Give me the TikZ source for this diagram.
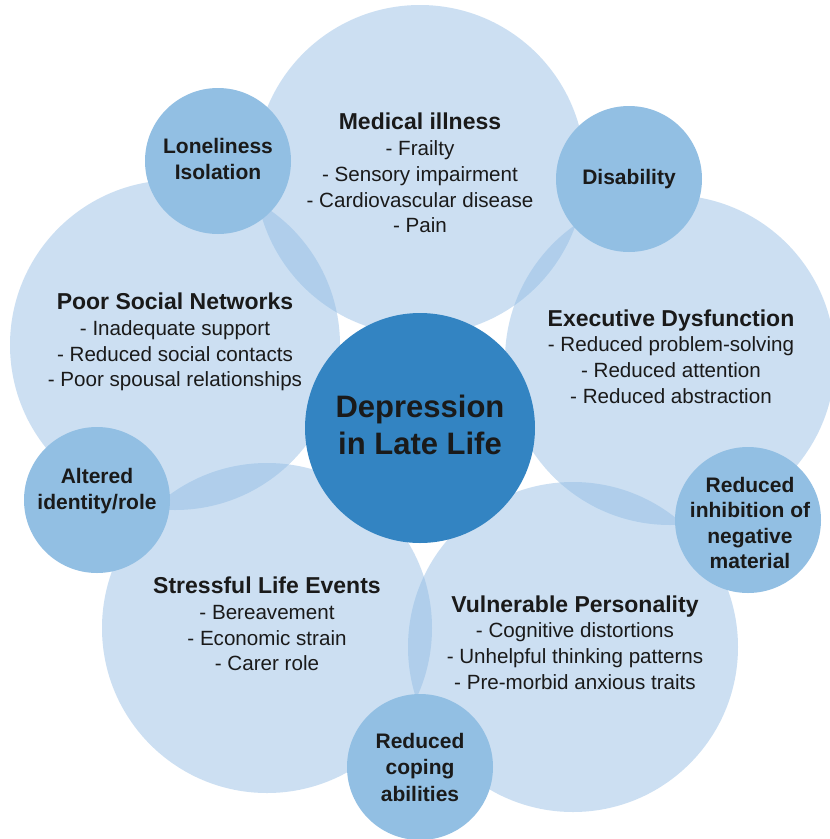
\documentclass[tikz,border=0pt]{standalone}
\usepackage{fontspec}
\setmainfont{Liberation Sans}
\usetikzlibrary{positioning}
\definecolor{paleblue}{RGB}{142,186,228}
\definecolor{midblue}{HTML}{92BFE3}
\definecolor{deepblue}{HTML}{3384C2}
\definecolor{inkgrey}{HTML}{1A1A1A}
\newcommand{\ttl}[1]{{\fontsize{23}{27}\selectfont\bfseries #1}}

\begin{document}
\begin{tikzpicture}[
  x=1pt, y=-1pt,
  factor/.style={
    circle,
    fill=paleblue,
    fill opacity=0.45,
    inner sep=0pt,
    minimum size=330pt,
  },
  link/.style={
    circle,
    fill=midblue,
    inner sep=0pt,
    minimum size=146pt,
  },
  core/.style={
    circle,
    fill=deepblue,
    inner sep=0pt,
    minimum size=230pt,
  },
  factortext/.style={
    align=center,
    text=inkgrey,
    font=\fontsize{20.6}{25.8}\selectfont,
  },
  linktext/.style={
    align=center,
    text=inkgrey,
    font=\fontsize{21}{26.5}\selectfont\bfseries,
  },
  coretext/.style={
    align=center,
    text=inkgrey,
    font=\fontsize{31}{36.5}\selectfont\bfseries,
  }]
  \fill[white] (0,0) rectangle (830,839);
  \useasboundingbox (0,0) rectangle (830,839);
  % outer factors
  \node[factor] (MED) at (420,170) {};
  \node[factor] (EXE) at (670,360) {};
  \node[factor] (VUL) at (573,647) {};
  \node[factor] (STR) at (267,628) {};
  \node[factor] (SOC) at (175,345) {};
  % centre
  \node[core] (DEP) at (420,428) {};
  % linking circles
  \node[link] (LON) at (218,161) {};
  \node[link] (DIS) at (629,179) {};
  \node[link] (INH) at (748,520) {};
  \node[link] (COP) at (420,767) {};
  \node[link] (IDE) at (97,500) {};
  % texts
  \node[factortext] (MEDtxt) at ([yshift=-3pt]MED.center) {\ttl{Medical illness}\\- Frailty\\- Sensory impairment\\- Cardiovascular disease\\- Pain};
  \node[factortext] (EXEtxt) at ([shift={(1,-3.5)}]EXE.center) {\ttl{Executive Dysfunction}\\- Reduced problem-solving\\- Reduced attention\\- Reduced abstraction};
  \node[factortext] (VULtxt) at ([shift={(2,-4.5)}]VUL.center) {\ttl{Vulnerable Personality}\\- Cognitive distortions\\- Unhelpful thinking patterns\\- Pre-morbid anxious traits};
  \node[factortext] (STRtxt) at ([yshift=4pt]STR.center) {\ttl{Stressful Life Events}\\- Bereavement\\- Economic strain\\- Carer role};
  \node[factortext] (SOCtxt) at ([yshift=3pt]SOC.center) {\ttl{Poor Social Networks}\\- Inadequate support\\- Reduced social contacts\\- Poor spousal relationships};
  \node[coretext] (DEPtxt) at ([yshift=3pt]DEP.center) {Depression\\in Late Life};
  \node[linktext, font=\fontsize{21}{25.5}\selectfont\bfseries] (INHtxt) at ([shift={(2,3)}]INH.center) {Reduced\\inhibition of\\negative\\material};
  \node[linktext] (LONtxt) at ([yshift=2pt]LON.center) {Loneliness\\Isolation};
  \node[linktext] (DIStxt) at (DIS.center) {Disability};
  \node[linktext] (COPtxt) at (COP.center) {Reduced\\coping\\abilities};
  \node[linktext] (IDEtxt) at ([yshift=9pt]IDE.center) {Altered\\identity/role};
\end{tikzpicture}
\end{document}
